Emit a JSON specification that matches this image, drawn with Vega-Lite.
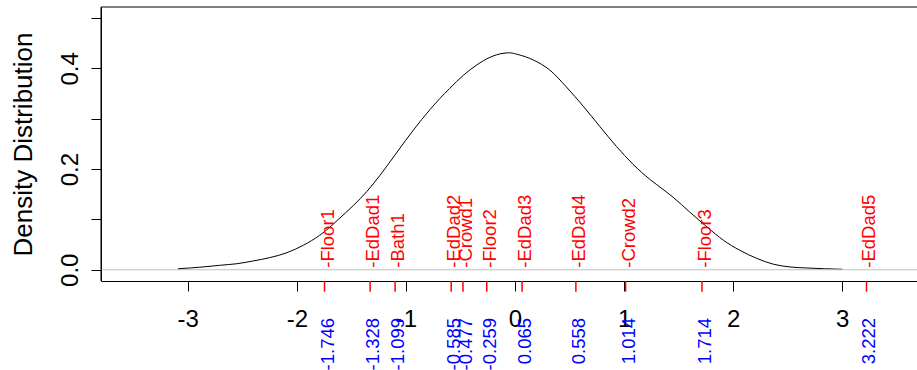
{
  "$schema": "https://vega.github.io/schema/vega-lite/v6.json",
  "autosize": {"type": "none"},
  "padding": {"left": 101, "top": 7, "right": 0, "bottom": 89},
  "width": 816,
  "height": 274,
  "background": "white",
  "config": {
    "view": {"stroke": null},
    "font": "Liberation Sans",
    "axis": {"grid": false, "domain": true, "domainColor": "black", "tickColor": "black", "labelColor": "black", "titleColor": "black", "labelFont": "Liberation Sans", "titleFont": "Liberation Sans", "domainWidth": 1, "tickWidth": 1}
  },
  "datasets": {
    "curve": [
      {"x": -3.09, "d": 0.002}, {"x": -2.86, "d": 0.0056}, {"x": -2.70, "d": 0.009}, {"x": -2.55, "d": 0.012},
      {"x": -2.40, "d": 0.0175}, {"x": -2.25, "d": 0.024}, {"x": -2.09, "d": 0.034}, {"x": -1.94, "d": 0.0487},
      {"x": -1.79, "d": 0.0686}, {"x": -1.70, "d": 0.084}, {"x": -1.63, "d": 0.098}, {"x": -1.48, "d": 0.128},
      {"x": -1.36, "d": 0.155}, {"x": -1.24, "d": 0.187}, {"x": -1.08, "d": 0.234}, {"x": -0.93, "d": 0.278},
      {"x": -0.78, "d": 0.318}, {"x": -0.69, "d": 0.34}, {"x": -0.60, "d": 0.36}, {"x": -0.47, "d": 0.387},
      {"x": -0.35, "d": 0.407}, {"x": -0.23, "d": 0.422}, {"x": -0.11, "d": 0.43}, {"x": -0.05, "d": 0.431},
      {"x": 0.02, "d": 0.428}, {"x": 0.17, "d": 0.4165}, {"x": 0.32, "d": 0.3966}, {"x": 0.47, "d": 0.3634},
      {"x": 0.63, "d": 0.3237}, {"x": 0.78, "d": 0.284}, {"x": 0.93, "d": 0.245}, {"x": 1.08, "d": 0.21},
      {"x": 1.24, "d": 0.179}, {"x": 1.30, "d": 0.169}, {"x": 1.45, "d": 0.144}, {"x": 1.60, "d": 0.115},
      {"x": 1.76, "d": 0.085}, {"x": 1.91, "d": 0.0587}, {"x": 2.06, "d": 0.0388}, {"x": 2.22, "d": 0.0223},
      {"x": 2.37, "d": 0.011}, {"x": 2.52, "d": 0.0056}, {"x": 2.67, "d": 0.0036}, {"x": 3.0, "d": 0.001}
    ],
    "vars": [
      {"value": -1.746, "name": "-Floor1", "num": "-1.746"},
      {"value": -1.328, "name": "-EdDad1", "num": "-1.328"},
      {"value": -1.099, "name": "-Bath1", "num": "-1.099"},
      {"value": -0.585, "name": "-EdDad2", "num": "-0.585"},
      {"value": -0.477, "name": "-Crowd1", "num": "-0.477"},
      {"value": -0.259, "name": "-Floor2", "num": "-0.259"},
      {"value": 0.065, "name": "-EdDad3", "num": "0.065"},
      {"value": 0.558, "name": "-EdDad4", "num": "0.558"},
      {"value": 1.014, "name": "-Crowd2", "num": "1.014"},
      {"value": 1.714, "name": "-Floor3", "num": "1.714"},
      {"value": 3.222, "name": "-EdDad5", "num": "3.222"}
    ]
  },
  "layer": [
    {
      "data": {"name": "curve"},
      "mark": {"type": "line", "color": "black", "strokeWidth": 1, "interpolate": "monotone"},
      "encoding": {
        "x": {"field": "x", "type": "quantitative", "scale": {"domain": [-3.795, 3.685], "nice": false, "zero": false},
          "axis": {"orient": "bottom", "values": [-3, -2, -1, 0, 1, 2, 3], "tickSize": 10, "labelFontSize": 24, "labelPadding": 16, "labelExpr": "datum.value + ''", "title": null, "labelFlush": false, "labelOverlap": false}},
        "y": {"field": "d", "type": "quantitative", "scale": {"domain": [-0.0223, 0.522], "nice": false, "zero": false},
          "axis": {"values": [0, 0.1, 0.2, 0.3, 0.4, 0.5], "tickSize": 10, "labelFontSize": 24, "labelAngle": 270, "labelAlign": "center", "labelBaseline": "alphabetic", "labelPadding": 13.5,
            "labelExpr": "(abs(datum.value) < 0.001 || abs(datum.value - 0.2) < 0.001 || abs(datum.value - 0.4) < 0.001) ? format(datum.value, '.1f') : ''",
            "labelFlush": false, "labelOverlap": false,
            "title": "Density Distribution", "titleFontSize": 26, "titleFontWeight": "normal", "titleAngle": 270, "titleX": -69.3, "titleY": 137, "titleAlign": "center", "titleBaseline": "alphabetic"}}
      }
    },
    {
      "data": {"values": [{}]},
      "mark": {"type": "rule", "color": "#bebebe", "strokeWidth": 1},
      "encoding": {
        "x": {"datum": -3.795, "type": "quantitative"},
        "x2": {"datum": 3.685},
        "y": {"datum": 0, "type": "quantitative"}
      }
    },
    {
      "data": {"values": [{}]},
      "mark": {"type": "rule", "color": "black", "strokeWidth": 1},
      "encoding": {
        "x": {"datum": -3.795, "type": "quantitative"},
        "x2": {"datum": 3.685},
        "y": {"datum": 0.522, "type": "quantitative"}
      }
    },
    {
      "data": {"values": [{}]},
      "mark": {"type": "rule", "color": "black", "strokeWidth": 1},
      "encoding": {
        "x": {"datum": -3.795, "type": "quantitative"},
        "y": {"datum": -0.0223, "type": "quantitative"},
        "y2": {"datum": 0.522}
      }
    },
    {
      "data": {"name": "vars"},
      "mark": {"type": "rule", "color": "red", "strokeWidth": 1.5},
      "encoding": {
        "x": {"field": "value", "type": "quantitative"},
        "y": {"datum": -0.0223, "type": "quantitative"},
        "y2": {"datum": -0.0435}
      }
    },
    {
      "data": {"name": "vars"},
      "mark": {"type": "text", "color": "red", "fontSize": 18.5, "angle": 270, "align": "left", "baseline": "middle", "dy": 3, "font": "Liberation Sans"},
      "encoding": {
        "x": {"field": "value", "type": "quantitative"},
        "y": {"datum": 0.004, "type": "quantitative"},
        "text": {"field": "name"}
      }
    },
    {
      "data": {"name": "vars"},
      "mark": {"type": "text", "color": "blue", "fontSize": 18.5, "angle": 270, "align": "right", "baseline": "middle", "dy": 3, "font": "Liberation Sans"},
      "encoding": {
        "x": {"field": "value", "type": "quantitative"},
        "y": {"datum": -0.0957, "type": "quantitative"},
        "text": {"field": "num"}
      }
    }
  ]
}
